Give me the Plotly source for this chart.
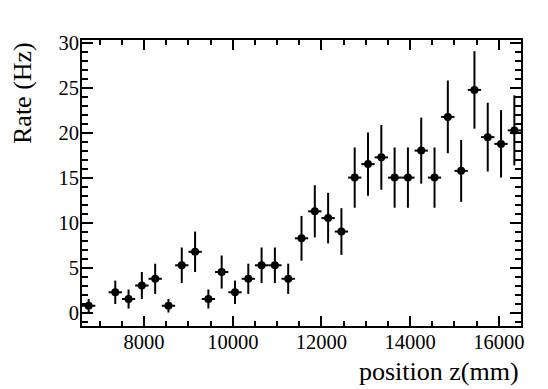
import plotly.graph_objects as go

# bin centers (mm), rates (Hz), rate errors (Hz)
position_mm = [6750, 7350, 7650, 7950, 8250, 8550, 8850, 9150, 9450, 9750,
               10050, 10350, 10650, 10950, 11250, 11550, 11850, 12150, 12450,
               12750, 13050, 13350, 13650, 13950, 14250, 14550, 14850, 15150,
               15450, 15750, 16050, 16350]
rate_hz = [0.75, 2.25, 1.5, 3.0, 3.75, 0.75, 5.25, 6.75, 1.5, 4.5,
           2.25, 3.75, 5.25, 5.25, 3.75, 8.25, 11.25, 10.5, 9.0,
           15.0, 16.5, 17.25, 15.0, 15.0, 18.0, 15.0, 21.75, 15.75,
           24.75, 19.5, 18.75, 20.25]
rate_err = [0.75, 1.30, 1.06, 1.50, 1.68, 0.75, 1.98, 2.25, 1.06, 1.84,
            1.30, 1.68, 1.98, 1.98, 1.68, 2.49, 2.90, 2.81, 2.60,
            3.35, 3.52, 3.60, 3.35, 3.35, 3.67, 3.35, 4.04, 3.44,
            4.31, 3.82, 3.75, 3.90]
bin_half_width = [150] * len(position_mm)

x_range = [6600, 16500]
y_range = [-1.5, 30.3]

FONT = "Liberation Serif"

fig = go.Figure()
fig.add_trace(go.Scatter(
    x=position_mm, y=rate_hz, mode="markers",
    marker=dict(symbol="circle", size=8, color="black"),
    error_y=dict(type="data", array=rate_err, visible=True, thickness=2, width=0, color="black"),
    error_x=dict(type="data", array=bin_half_width, visible=True, thickness=2, width=0, color="black"),
    showlegend=False, hoverinfo="x+y",
))
# invisible trace to anchor the mirrored axes
fig.add_trace(go.Scatter(x=[x_range[0]], y=[y_range[0]], xaxis="x2", yaxis="y2",
                         mode="markers", marker=dict(opacity=0), showlegend=False,
                         hoverinfo="skip"))

minor_x = dict(dtick=500, ticklen=5, ticks="inside", tickcolor="black", tickwidth=1.5)
minor_y = dict(dtick=1, ticklen=6, ticks="inside", tickcolor="black", tickwidth=1.5)
common = dict(showgrid=False, zeroline=False, showline=True, linecolor="black",
              linewidth=2, ticks="inside", tickcolor="black", tickwidth=1.5,
              automargin=False, tickformat="d",
              tickfont=dict(family=FONT, size=20.5, color="black"))

# page body has an 8px default margin, so the figure is 8px smaller and shifted
fig.update_layout(
    width=540, height=381,
    margin=dict(l=74, r=27, t=32, b=62.5, pad=0),
    paper_bgcolor="white", plot_bgcolor="white",
    font=dict(family=FONT, size=20.5, color="black"),
    xaxis=dict(range=x_range, dtick=2000, tick0=0, ticklen=10, minor=minor_x,
               ticklabelstandoff=-4, **common),
    yaxis=dict(range=y_range, dtick=5, tick0=0, ticklen=11, minor=minor_y,
               ticklabelstandoff=-3, **common),
    xaxis2=dict(range=x_range, overlaying="x", side="top", anchor="y2", dtick=2000, tick0=0,
                ticklen=10, showticklabels=False, minor=minor_x, **common),
    yaxis2=dict(range=y_range, overlaying="y", side="right", anchor="x2", dtick=5, tick0=0,
                ticklen=11, showticklabels=False, minor=minor_y, **common),
    annotations=[
        dict(text="position z(mm)", xref="paper", yref="paper", x=1, y=0,
             xanchor="right", yanchor="top", yshift=-29, showarrow=False,
             font=dict(family=FONT, size=26)),
        dict(text="Rate (Hz)", xref="paper", yref="paper", x=0, y=1,
             xanchor="center", yanchor="top", xshift=-60, textangle=-90, showarrow=False,
             font=dict(family=FONT, size=26)),
    ],
)

fig.write_html("out.html")
